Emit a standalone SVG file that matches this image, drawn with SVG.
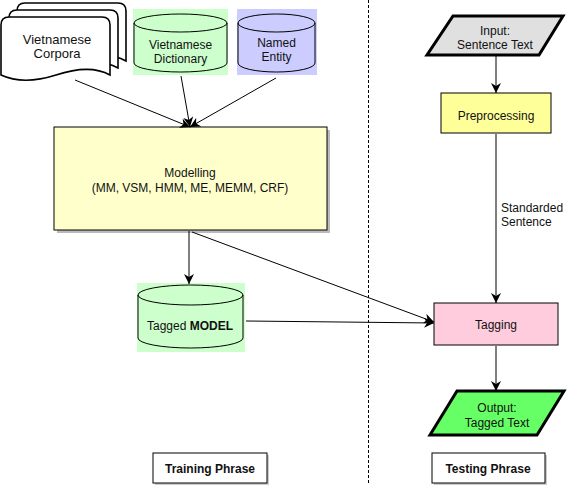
<svg xmlns="http://www.w3.org/2000/svg" width="568" height="486" viewBox="0 0 568 486">
<style>
text{font-family:"Liberation Sans",Arial,sans-serif;font-size:12px;fill:#111;text-anchor:middle}
.b{font-weight:bold}
.ln{stroke:#000;stroke-width:1;fill:none}
.box{stroke:#000;stroke-width:1}
.shadow{fill:#bbb}
.doc{fill:#fff;stroke:#000;stroke-width:1.6}
</style>
<defs>
<marker id="ah" viewBox="0 0 10 10" refX="10" refY="5" markerWidth="10" markerHeight="10" markerUnits="userSpaceOnUse" orient="auto">
<path d="M0,0 L10,5 L0,10 L3,5 Z" fill="#000"/>
</marker>
</defs>
<rect width="568" height="486" fill="#fff"/>
<line x1="368.5" y1="0" x2="368.5" y2="484" stroke="#000" stroke-width="1" stroke-dasharray="3,2"/>

<g id="corpora">
<path d="M17,11 Q17,3 25,3 L118,3 Q126,3 126,11 L126,61 C110,52 90,55 72,61 C50,68 32,68 17,61 Z" class="doc"/>
<path d="M9,18 Q9,10 17,10 L110,10 Q118,10 118,18 L118,68 C102,59 82,62 64,68 C42,75 24,75 9,68 Z" class="doc"/>
<path d="M1,25 Q1,17 9,17 L102,17 Q110,17 110,25 L110,75 C94,66 74,69 56,75 C34,82 16,82 1,75 Z" class="doc"/>
<text x="57" y="44" style="font-size:13px">Vietnamese</text>
<text x="57" y="58" style="font-size:13px">Corpora</text>
</g>

<g id="dictionary">
<rect x="133" y="9" width="95" height="66" fill="#ccffcc"/>
<path d="M134,23 A46.5,9 0 0 1 227,23 L227,63 A46.5,9 0 0 1 134,63 Z" fill="#ccffcc" stroke="#000"/>
<path d="M134,23 A46.5,9 0 0 0 227,23" fill="none" stroke="#000"/>
<text x="180.5" y="49">Vietnamese</text>
<text x="180.5" y="63">Dictionary</text>
</g>

<g id="named-entity">
<rect x="237" y="9" width="80" height="66" fill="#ccccff"/>
<path d="M238,23 A38.5,9 0 0 1 315,23 L315,63 A38.5,9 0 0 1 238,63 Z" fill="#ccccff" stroke="#000"/>
<path d="M238,23 A38.5,9 0 0 0 315,23" fill="none" stroke="#000"/>
<text x="276.5" y="47">Named</text>
<text x="276.5" y="61">Entity</text>
</g>

<g id="modelling">
<rect x="57" y="130" width="273" height="103" class="shadow"/>
<rect x="54" y="127" width="273" height="103" fill="#ffffcc" class="box"/>
<text x="190" y="177">Modelling</text>
<text x="190" y="192">(MM, VSM, HMM, ME, MEMM, CRF)</text>
</g>

<g id="tagged-model">
<rect x="137" y="283" width="108" height="69" fill="#ccffcc"/>
<path d="M138,295 A52.5,10 0 0 1 243,295 L243,338 A52.5,10 0 0 1 138,338 Z" fill="#ccffcc" stroke="#000"/>
<path d="M138,295 A52.5,10 0 0 0 243,295" fill="none" stroke="#000"/>
<text x="190" y="330">Tagged <tspan class="b">MODEL</tspan></text>
</g>

<g id="input">
<path d="M453,16 L563,16 L539,55 L427,55 Z" fill="#e0e0e0" stroke="#000" stroke-width="3"/>
<text x="495" y="35">Input:</text>
<text x="495" y="49">Sentence Text</text>
</g>

<g id="preprocessing">
<rect x="441" y="93" width="110" height="40" fill="#ffff99" class="box"/>
<text x="496" y="120">Preprocessing</text>
</g>

<g id="tagging">
<rect x="434" y="303" width="124" height="42" fill="#ffccdd" class="box"/>
<text x="496" y="329">Tagging</text>
</g>

<g id="output">
<path d="M457,391 L564,391 L537,435 L430,435 Z" fill="#66ff66" stroke="#000" stroke-width="3"/>
<text x="497" y="412">Output:</text>
<text x="497" y="427">Tagged Text</text>
</g>

<g id="training-phrase">
<rect x="155" y="455" width="114" height="30" fill="#ccc"/>
<rect x="153" y="453" width="114" height="30" fill="#fff" class="box"/>
<text x="210" y="473" class="b">Training Phrase</text>
</g>

<g id="testing-phrase">
<rect x="434" y="455" width="113" height="30" fill="#ccc"/>
<rect x="432" y="453" width="113" height="30" fill="#fff" class="box"/>
<text x="488" y="473" class="b">Testing Phrase</text>
</g>

<g id="connectors">
<line x1="75" y1="80" x2="190" y2="127" class="ln" marker-end="url(#ah)"/>
<line x1="181" y1="76" x2="190" y2="127" class="ln" marker-end="url(#ah)"/>
<line x1="276" y1="78" x2="190" y2="127" class="ln" marker-end="url(#ah)"/>
<line x1="189" y1="231" x2="189" y2="284" class="ln" marker-end="url(#ah)"/>
<line x1="192" y1="232" x2="434" y2="322" class="ln" marker-end="url(#ah)"/>
<line x1="246" y1="321" x2="434" y2="323" class="ln" marker-end="url(#ah)"/>
<line x1="496" y1="56" x2="496" y2="93" class="ln" marker-end="url(#ah)"/>
<line x1="496" y1="134" x2="496" y2="303" class="ln" marker-end="url(#ah)"/>
<line x1="496" y1="346" x2="496" y2="391" class="ln" marker-end="url(#ah)"/>
<text x="501" y="212" style="text-anchor:start">Standarded</text>
<text x="501" y="226" style="text-anchor:start">Sentence</text>
</g>
</svg>
